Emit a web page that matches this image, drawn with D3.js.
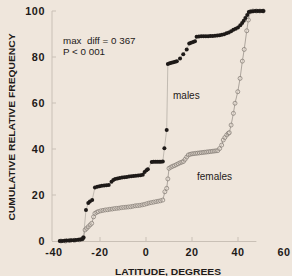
<!DOCTYPE html>
<html><head><meta charset="utf-8">
<script src="https://cdn.jsdelivr.net/npm/d3@7"></script>
<style>
html,body{margin:0;padding:0;background:#efe6dc;}
svg{display:block;font-family:"Liberation Sans",Arial,sans-serif;}
</style></head>
<body><svg id="c" width="292" height="276"></svg>
<script>
const xTicks = [-40, -20, 0, 20, 40, 60];
const yTicks = [0, 20, 40, 60, 80, 100];
const xTitle = "LATITUDE, DEGREES";
const yTitle = "CUMULATIVE RELATIVE FREQUENCY";
const statLines = ["max  diff = 0 367", "P < 0 001"];

const malesLat = [-37.5,-36.5,-35.5,-34.5,-33.5,-32.5,-31.5,-30.5,-29.5,-28.5,-27.6,-27.2,
 -26.1,-25.1,-24.4,-23.4,
 -22.2,-21.2,-20.2,-19.2,-18.2,-17.2,-16.2,-15.0,-14.2,-13.4,-12.4,-11.4,-10.4,-9.4,-8.4,-7.4,-6.4,-5.4,-4.4,-3.4,-2.4,-1.4,-0.6,0.2,0.8,
 2.5,3.3,4.1,4.9,5.7,6.5,7.3,
 8.0,9.0,
 9.5,10.3,11.1,11.9,12.7,13.4,14.8,16.2,17.7,18.8,19.6,20.5,21.3,22.0,23,24,25,26,27,28,29,30,31,32,33,34,35,36,37,38,39,40,41,41.8,42.5,43.2,44,44.7,45.5,46.5,47.5,48.5,49.5,50.5,51];
const malesVal = [0,0,0.1,0.2,0.2,0.3,0.3,0.4,0.5,0.6,0.9,1.5,
 13.5,16.5,17.2,17.8,
 23.3,23.6,23.8,24,24.1,24.2,24.4,25.8,26.5,27,27.2,27.4,27.6,27.7,27.8,28,28.2,28.3,28.4,28.5,28.6,28.8,30,30.8,31.2,
 34.4,34.5,34.5,34.5,34.5,34.5,34.6,
 40.3,48.3,
 77,77.3,77.5,77.7,77.9,78.2,79.4,81.2,83.3,85.9,86.2,86.5,86.8,88.8,88.9,89,89,89,89,89.1,89.1,89.2,89.3,89.5,89.7,89.9,90.3,90.7,91.2,91.8,92.3,92.8,93.8,94.8,95.8,97,98.3,99.6,99.8,99.9,100,100,100,100,100];

const femalesLat = [-37,-35,-33,-31,-29,-27.8,-27.2,-26.5,-25.8,-25.1,-24.3,-23.6,-22.8,-22.2,-21.4,-20.7,-19.7,-18.7,-17.7,-16.7,-15.7,-14.7,-13.7,-12.7,-11.7,-10.7,-9.7,-8.7,-7.7,-6.7,-5.7,-4.7,-3.7,-2.7,-1.7,-0.7,0.3,1.3,2.3,3.3,4.3,5.3,6.3,7.3,
 8.2,9.0,9.5,10.0,10.8,11.6,12.4,13.2,14.0,14.8,15.6,16.3,17.0,17.7,18.4,19.2,20.0,20.8,21.6,22.4,23.2,24,24.8,25.6,26.4,27.2,28,28.8,29.6,30.4,31.2,
 32.0,32.9,33.6,34.3,35.1,35.8,36.2,37.0,38.0,38.7,39.9,40.9,41.9,42.7,43.8,44.5,45.2,46.5,48,49.5,51];
const femalesVal = [0,0,0.2,0.3,0.5,0.8,1.5,4.8,5.5,6.2,7,7.7,10.5,12,12.5,12.8,13.1,13.3,13.5,13.6,13.8,13.9,14.1,14.2,14.3,14.5,14.6,14.7,14.8,14.9,15.1,15.3,15.4,15.5,15.7,15.9,16.2,16.5,16.7,16.9,17.1,17.3,17.5,17.8,
 21.4,22.9,27,31.6,32.1,32.5,32.8,33.2,33.6,34,34.3,34.6,35.5,36.5,37.4,37.7,37.9,38,38.1,38.2,38.3,38.4,38.5,38.6,38.7,38.8,38.9,39,39.1,39.2,39.3,
 40.2,41.7,43.9,45,46.1,46.8,47.1,50.4,55.5,59.9,64.9,70.7,78.2,83.3,91.4,96.1,99.6,100,100,100,100];

const svg = d3.select("#c");
const x = d3.scaleLinear().domain([-40, 60]).range([54, 284]);
const y = d3.scaleLinear().domain([0, 100]).range([241, 11]);
const axisCol = "#c9c0b6";
const ink = "#1e1a18";

svg.append("line").attr("x1", 52).attr("x2", 52).attr("y1", y(100)).attr("y2", y(0))
  .attr("stroke", axisCol).attr("stroke-width", 1);
svg.append("line").attr("x1", 52).attr("x2", x(48)).attr("y1", y(0)+0.5).attr("y2", y(0)+0.5)
  .attr("stroke", axisCol).attr("stroke-width", 1);

const gy = svg.append("g");
gy.selectAll("line").data(yTicks.slice(1)).join("line")
  .attr("x1", 52).attr("x2", 56).attr("y1", d => y(d)).attr("y2", d => y(d))
  .attr("stroke", axisCol);
gy.selectAll("text").data(yTicks).join("text")
  .attr("x", 45).attr("y", d => y(d)).attr("dy", "0.36em")
  .attr("text-anchor", "end").attr("font-size", 10.8).attr("font-weight", "bold")
  .attr("letter-spacing", 0.6).attr("fill", ink).text(d => d);

const gx = svg.append("g");
gx.selectAll("line").data(xTicks.filter(d => d > -40 && d < 60)).join("line")
  .attr("x1", d => x(d)).attr("x2", d => x(d)).attr("y1", y(0)).attr("y2", y(0) - 4)
  .attr("stroke", axisCol);
gx.selectAll("text").data(xTicks).join("text")
  .attr("x", d => x(d)).attr("y", 256)
  .attr("text-anchor", "middle").attr("font-size", 10.8).attr("font-weight", "bold")
  .attr("letter-spacing", 0.6).attr("fill", ink).text(d => d);

svg.append("text").attr("x", 168).attr("y", 275).attr("text-anchor", "middle")
  .attr("font-size", 8.8).attr("font-weight", "bold").attr("fill", ink)
  .attr("textLength", 106).attr("lengthAdjust", "spacingAndGlyphs").text(xTitle);
svg.append("text").attr("transform", "translate(15,127) rotate(-90)").attr("text-anchor", "middle")
  .attr("font-size", 8.8).attr("font-weight", "bold").attr("fill", ink)
  .attr("textLength", 187).attr("lengthAdjust", "spacingAndGlyphs").text(yTitle);

svg.append("g").selectAll("text").data(statLines).join("text")
  .attr("x", 63).attr("y", (d, i) => 44 + i * 11)
  .attr("font-size", 9.8).attr("fill", ink)
  .style("white-space", "pre").text(d => d);

const males = malesLat.map((d, i) => [d, malesVal[i]]);
const females = femalesLat.map((d, i) => [d, femalesVal[i]]);
const line = d3.line().x(d => x(d[0])).y(d => y(d[1]));

svg.append("path").datum(females).attr("d", line).attr("fill", "none")
  .attr("stroke", "#9a938c").attr("stroke-width", 0.8);
svg.append("path").datum(males).attr("d", line).attr("fill", "none")
  .attr("stroke", "#b5aea6").attr("stroke-width", 0.8);

svg.append("g").selectAll("circle").data(females).join("circle")
  .attr("cx", d => x(d[0])).attr("cy", d => y(d[1])).attr("r", 2)
  .attr("fill", "#efe6dc").attr("fill-opacity", 0.4).attr("stroke", "#7e7770").attr("stroke-width", 0.7);

svg.append("g").selectAll("circle").data(males).join("circle")
  .attr("cx", d => x(d[0])).attr("cy", d => y(d[1])).attr("r", 2)
  .attr("fill", ink);

svg.append("text").attr("x", 173).attr("y", 99).attr("font-size", 10).attr("fill", ink).text("males");
svg.append("text").attr("x", 197).attr("y", 180).attr("font-size", 10).attr("fill", ink).text("females");
</script></body></html>
